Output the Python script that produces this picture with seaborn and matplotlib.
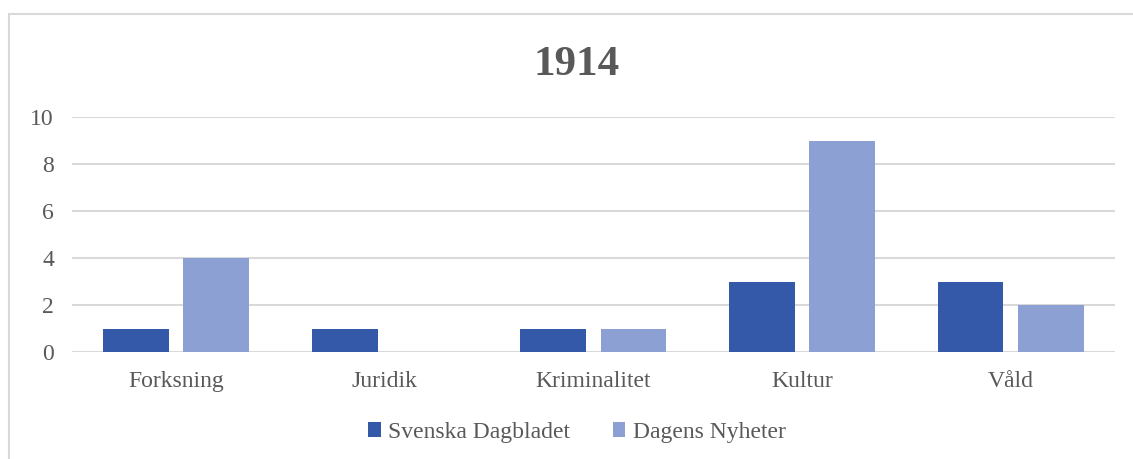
import pandas as pd
import seaborn as sns
import matplotlib.pyplot as plt
from matplotlib.patches import Rectangle

# data
kategorier = ['Forksning', 'Juridik', 'Kriminalitet', 'Kultur', 'Våld']
svenska_dagbladet = [1, 1, 1, 3, 3]
dagens_nyheter = [4, 0, 1, 9, 2]
serier = ['Svenska Dagbladet', 'Dagens Nyheter']
y_ticks = [0, 2, 4, 6, 8, 10]

df = pd.DataFrame({
    'kategori': kategorier * 2,
    'tidning': [serier[0]] * len(kategorier) + [serier[1]] * len(kategorier),
    'antal': svenska_dagbladet + dagens_nyheter,
})

sns.set_style('white')
plt.rcParams['font.family'] = ['Liberation Serif', 'DejaVu Serif']
text_color = '#595959'
grid_color = '#d9d9d9'
palette = {serier[0]: '#3459a8', serier[1]: '#8ca0d4'}

fig = plt.figure(figsize=(11.33, 4.59), dpi=100)
ax = fig.add_axes([0.0635, 0.233, 0.9205, 0.512])

sns.barplot(data=df, x='kategori', y='antal', hue='tidning', palette=palette,
            saturation=1, width=0.77, gap=0.18, linewidth=0, edgecolor='none',
            ax=ax, zorder=3, legend=True)

ax.set_xlim(-0.5, 4.5)
ax.set_ylim(0, 10)
ax.set_yticks(y_ticks)
for y in y_ticks:
    ax.axhline(y, color=grid_color, lw=1.5, zorder=1)
for s in ax.spines.values():
    s.set_visible(False)
ax.tick_params(axis='both', length=0, labelsize=17, labelcolor=text_color)
ax.tick_params(axis='y', pad=13)
ax.tick_params(axis='x', pad=14)
ax.set_xlabel('')
ax.set_ylabel('')

fig.text(0.509, 0.858, '1914', ha='center', va='center', fontsize=31,
         fontweight='bold', color=text_color)

handles, labels = ax.get_legend_handles_labels()
ax.legend_.remove()
fig.legend(handles, labels, loc='center', bbox_to_anchor=(0.509, 0.058), ncol=2,
           frameon=False, fontsize=17, labelcolor=text_color,
           handlelength=0.55, handleheight=0.55, handletextpad=0.3, columnspacing=1.8)

# chart frame
fig.patches.append(Rectangle((9 / 1133, -0.1), 1.2, 1 - 14 / 459 + 0.1,
                             transform=fig.transFigure, fill=False,
                             edgecolor=grid_color, lw=1.5))

fig.savefig('out.png', dpi=100)
